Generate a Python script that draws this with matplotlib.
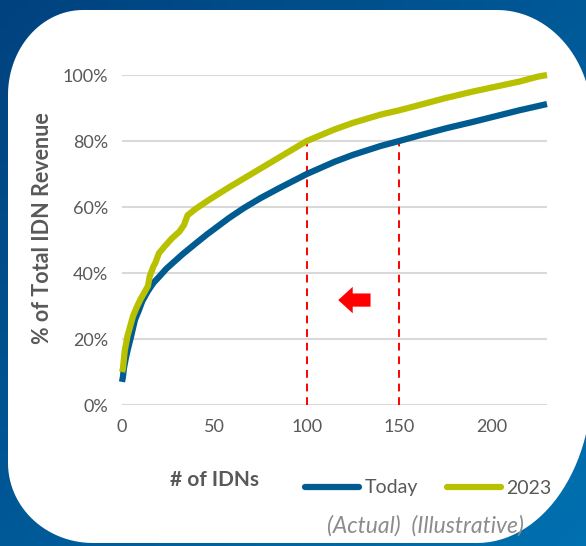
import numpy as np
import matplotlib
matplotlib.use("Agg")
import matplotlib.pyplot as plt
from matplotlib.patches import Polygon
from matplotlib.lines import Line2D

plt.rcParams['font.family'] = ['Lato', 'DejaVu Sans']

# data
idn_today = [0, 0.5, 1, 2, 3, 5, 7, 9, 11, 14, 17, 20, 24, 28, 33, 40, 46, 52, 58, 66, 75, 85,
             100, 115, 125, 140, 150, 165, 175, 190, 200, 215, 230]
rev_today = [0.07, 0.085, 0.11, 0.14, 0.165, 0.21, 0.258, 0.285, 0.315, 0.345, 0.37, 0.388,
             0.413, 0.433, 0.458, 0.49, 0.517, 0.542, 0.567, 0.597, 0.627, 0.657,
             0.70, 0.737, 0.758, 0.785, 0.80, 0.823, 0.838, 0.858, 0.872, 0.893, 0.912]
idn_2023 = [0, 0.5, 1.5, 3, 4.5, 6, 8, 10, 12.5, 14, 15, 17, 18, 20, 23, 27, 31, 33.5, 35.5,
            40, 48, 58, 70, 85, 100, 115, 125, 140, 150, 165, 175, 190, 200, 215, 225, 230]
rev_2023 = [0.10, 0.11, 0.165, 0.21, 0.24, 0.27, 0.297, 0.32, 0.345, 0.36, 0.39, 0.42, 0.43,
            0.46, 0.48, 0.505, 0.525, 0.545, 0.575, 0.595, 0.625, 0.66, 0.70, 0.75, 0.80,
            0.835, 0.855, 0.88, 0.893, 0.915, 0.93, 0.95, 0.962, 0.98, 0.995, 1.0]
cutoff_x = [100, 150]
cutoff_y = 0.80
y_ticks = [0, 0.2, 0.4, 0.6, 0.8, 1.0]
y_labels = ['0%', '20%', '40%', '60%', '80%', '100%']
x_ticks = [0, 50, 100, 150, 200]

BLUE = '#005b91'
GREEN = '#b8c100'
GREY = '#595959'

W, H = 586, 546
fig = plt.figure(figsize=(W / 100, H / 100), dpi=100)

# background: blue gradient + white rounded panel
bg = fig.add_axes((0, 0, 1, 1))
bg.set_xlim(0, W)
bg.set_ylim(H, 0)
bg.axis('off')
gx, gy = np.meshgrid(np.linspace(0, 1, 64), np.linspace(0, 1, 64))
grad = (gx + gy) / 2
cmap = matplotlib.colors.LinearSegmentedColormap.from_list('bg', ['#00427f', '#0070b0'])
bg.imshow(grad, cmap=cmap, extent=(0, W, H, 0), aspect='auto')


def corner(cx, cy, rx, ry, a0, a1):
    t = np.radians(np.linspace(a0, a1, 30))
    return np.column_stack([cx + rx * np.cos(t), cy - ry * np.sin(t)])


left, top, right, bottom = 8, 10, 592, 543
pts = np.vstack([
    corner(left + 75, top + 85, 75, 85, 180, 90),        # top-left
    corner(right - 95, top + 110, 95, 110, 90, 0),       # top-right
    corner(right - 115, bottom - 160, 115, 160, 0, -90), # bottom-right
    corner(left + 85, bottom - 80, 85, 80, -90, -180),   # bottom-left
])
bg.add_patch(Polygon(pts, closed=True, facecolor='white', edgecolor='none'))

# chart
ax = fig.add_axes((122 / W, 141 / H, 425 / W, 330 / H))
ax.set_facecolor('none')
ax.set_xlim(0, 230)
ax.set_ylim(0, 1)
for y in y_ticks:
    ax.axhline(y, color='#d9d9d9', lw=1.5, zorder=0)
for s in ax.spines.values():
    s.set_visible(False)
ax.tick_params(length=0, labelsize=13, labelcolor=GREY, pad=10)
ax.set_yticks(y_ticks)
ax.set_yticklabels(y_labels)
ax.set_xticks(x_ticks)

ax.plot(idn_today, rev_today, color=BLUE, lw=4.5, solid_capstyle='butt', clip_on=False, zorder=3)
ax.plot(idn_2023, rev_2023, color=GREEN, lw=4.5, solid_capstyle='butt', clip_on=False, zorder=4)

for xc in cutoff_x:
    ax.plot([xc, xc], [0, cutoff_y], color='#ff0000', lw=1.4, ls=(0, (4, 3)), zorder=2)

ax.annotate('', xy=(117, 0.318), xytext=(134.5, 0.318),
            arrowprops=dict(arrowstyle='simple,head_length=0.55,head_width=1.0,tail_width=0.5',
                            mutation_scale=19, color='#ff0000', lw=0, shrinkA=0, shrinkB=0))

ax.set_ylabel('% of Total IDN Revenue', fontsize=15.5, fontweight='bold', color=GREY)
ax.yaxis.set_label_coords(-0.162, 0.536)

fig.text(215 / W, 1 - 480 / H, '# of IDNs', fontsize=15, fontweight='bold', color=GREY,
         ha='center', va='center')

handles = [Line2D([], [], color=BLUE, lw=4.5, solid_capstyle='round'),
           Line2D([], [], color=GREEN, lw=4.5, solid_capstyle='round')]
fig.legend(handles, ['Today', '2023'], loc='center left', bbox_to_anchor=(305 / W, 1 - 488 / H),
           ncol=2, frameon=False, fontsize=14, handlelength=2.8, handletextpad=0.25,
           columnspacing=1.5, labelcolor=GREY, borderpad=0, borderaxespad=0)

fig.text(425 / W, 1 - 526 / H, '(Actual)  (Illustrative)', fontsize=16.5, style='italic',
         color='#8c8c8c', ha='center', va='center')

fig.savefig('out.png', dpi=100)
